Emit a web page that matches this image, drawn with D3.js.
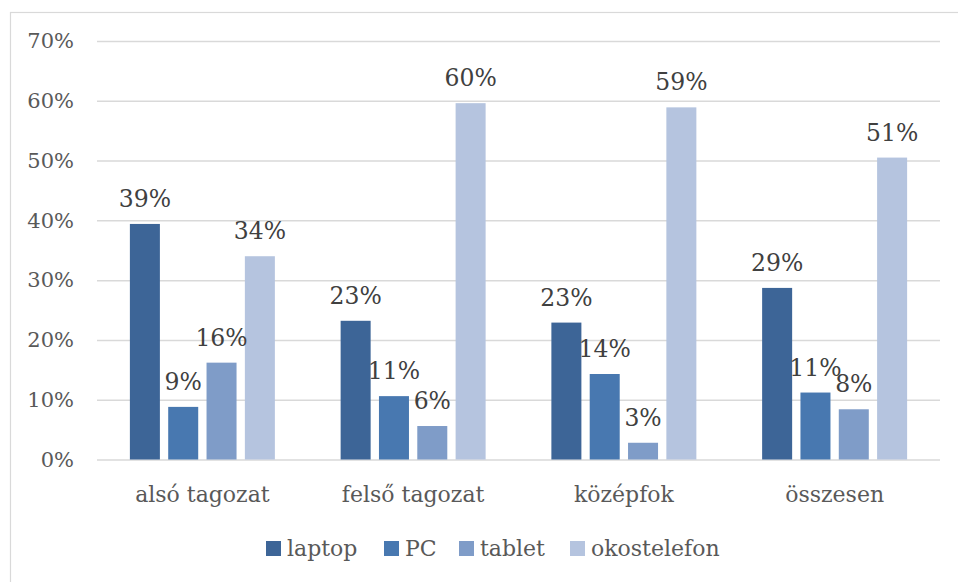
<!DOCTYPE html>
<html lang="hu">
<head>
  <meta charset="UTF-8">
  <title>Eszközök tagozatonként</title>
  <style>
    body { margin: 0; background: #fff; }
    svg text { font-family: "DejaVu Serif", serif; }
  </style>
</head>
<body>
  <div class="chart"></div>

  <script src="https://cdnjs.cloudflare.com/ajax/libs/d3/7.8.5/d3.min.js"></script>
  <script>
    // adatok
    const categories = ['alsó tagozat', 'felső tagozat', 'középfok', 'összesen'];
    const seriesNames = ['laptop', 'PC', 'tablet', 'okostelefon'];
    const laptop = [39.4, 23.2, 22.9, 28.7];
    const pc = [8.8, 10.6, 14.3, 11.2];
    const tablet = [16.2, 5.6, 2.8, 8.4];
    const okostelefon = [34.0, 59.6, 58.9, 50.5];
    const yTicks = [0, 10, 20, 30, 40, 50, 60, 70];
    const colors = ['#3d6597', '#4878b0', '#7f9cc8', '#b5c4df'];

    const values = [laptop, pc, tablet, okostelefon];

    const width = 958, height = 582;
    const plot = { left: 97, right: 940, top: 41, bottom: 459.5 };

    const svg = d3.select('.chart')
      .append('svg')
      .attr('width', width)
      .attr('height', height);

    // keret
    svg.append('rect')
      .attr('x', 10.5)
      .attr('y', 12.5)
      .attr('width', width)
      .attr('height', height)
      .style('fill', 'none')
      .style('stroke', '#d9d9d9')
      .style('stroke-width', 1.2);

    const y = d3.scaleLinear().domain([0, 70]).range([plot.bottom, plot.top]);

    const x0 = d3.scaleBand()
      .domain(categories)
      .range([plot.left, plot.right])
      .paddingInner(0.2726)
      .paddingOuter(0.1363);

    const x1 = d3.scaleBand()
      .domain(seriesNames)
      .range([0, x0.bandwidth()])
      .paddingInner(0.217)
      .paddingOuter(0.1085);

    // racsvonalak
    const yAxis = d3.axisLeft(y)
      .tickValues(yTicks)
      .tickSize(-(plot.right - plot.left))
      .tickPadding(23)
      .tickFormat(d => d + '%');

    const gy = svg.append('g')
      .attr('transform', 'translate(' + plot.left + ',0)')
      .call(yAxis);
    gy.select('.domain').remove();
    gy.selectAll('.tick line')
      .attr('stroke', '#d9d9d9')
      .attr('stroke-width', 1.5);
    gy.selectAll('.tick text')
      .attr('fill', '#595959')
      .attr('font-size', 21)
      .attr('font-family', '"DejaVu Serif", serif');

    // oszlopok
    const groups = svg.append('g')
      .selectAll('g')
      .data(categories)
      .join('g')
      .attr('transform', d => 'translate(' + x0(d) + ',0)');

    groups.selectAll('rect')
      .data((c, ci) => seriesNames.map((s, si) => ({ s: s, si: si, v: values[si][ci] })))
      .join('rect')
      .attr('x', d => x1(d.s))
      .attr('y', d => y(d.v))
      .attr('width', x1.bandwidth())
      .attr('height', d => y(0) - y(d.v))
      .attr('fill', d => colors[d.si]);

    // adatcimkek
    groups.selectAll('text.val')
      .data((c, ci) => seriesNames.map((s, si) => ({ s: s, si: si, v: values[si][ci] })))
      .join('text')
      .attr('class', 'val')
      .attr('x', d => x1(d.s) + x1.bandwidth() / 2)
      .attr('y', d => y(d.v) - 17)
      .attr('text-anchor', 'middle')
      .attr('fill', '#404040')
      .attr('font-size', 23.5)
      .text(d => Math.round(d.v) + '%');

    // kategoria tengely
    const xAxis = d3.axisBottom(x0).tickSize(0).tickPadding(0);
    const gx = svg.append('g')
      .attr('transform', 'translate(0,' + plot.bottom + ')')
      .call(xAxis);
    gx.select('.domain').remove();
    gx.selectAll('.tick text')
      .attr('dy', 0)
      .attr('y', 42)
      .attr('fill', '#595959')
      .attr('font-size', 22)
      .attr('font-family', '"DejaVu Serif", serif');

    // jelmagyarazat
    const legendX = [266, 384, 459, 570];
    const legend = svg.append('g')
      .selectAll('g')
      .data(seriesNames)
      .join('g')
      .attr('transform', (d, i) => 'translate(' + legendX[i] + ',541)');
    legend.append('rect')
      .attr('width', 15)
      .attr('height', 15)
      .attr('fill', (d, i) => colors[i]);
    legend.append('text')
      .attr('x', 21)
      .attr('y', 15)
      .attr('fill', '#595959')
      .attr('font-size', 22)
      .text(d => d);
  </script>
</body>
</html>
